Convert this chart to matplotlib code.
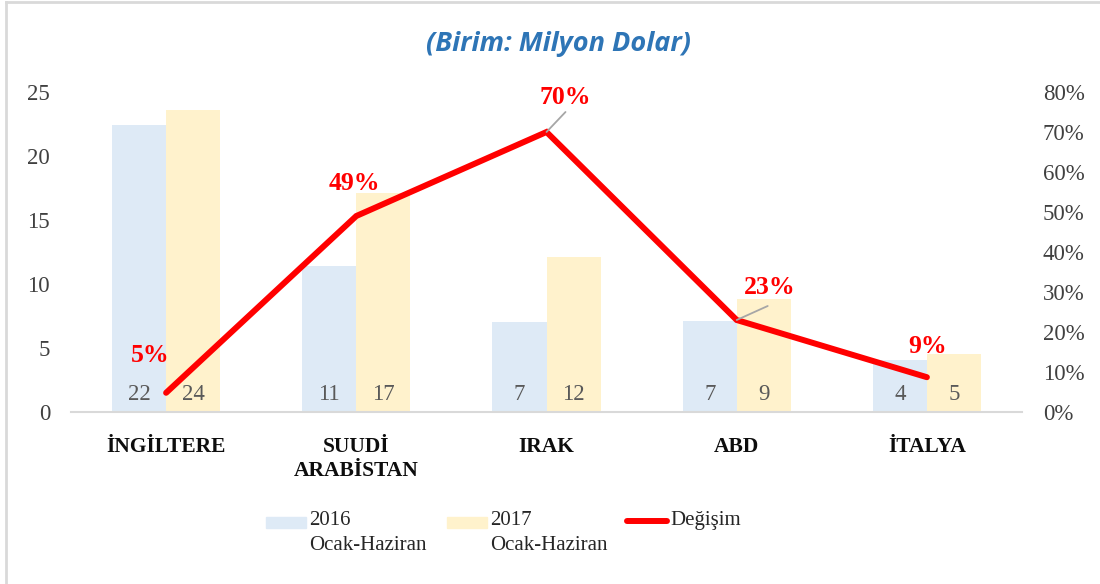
import matplotlib
matplotlib.use("Agg")
import matplotlib.pyplot as plt
from matplotlib.patches import Rectangle
from matplotlib.lines import Line2D
from matplotlib.ticker import PercentFormatter
import numpy as np

# ---- data ----
categories = ["İNGİLTERE", "SUUDİ\nARABİSTAN", "IRAK", "ABD", "İTALYA"]
values_2016 = [22.4, 11.4, 7.0, 7.1, 4.1]
values_2017 = [23.6, 17.1, 12.1, 8.8, 4.55]
change_pct = [0.048, 0.49, 0.70, 0.23, 0.087]
label_2016 = "2016\nOcak-Haziran"
label_2017 = "2017\nOcak-Haziran"
label_change = "Değişim"
title = "(Birim: Milyon Dolar)"

# ---- style ----
C16 = "#DEEAF6"
C17 = "#FFF2CC"
RED = "#FF0000"
GRAY_TXT = "#595959"
AX_TXT = "#404040"
SERIF = ["Liberation Serif"]

fig = plt.figure(figsize=(11, 5.84), dpi=100)
W, H = 1100, 584
ax = fig.add_axes([71 / W, 1 - 412 / H, (1022 - 71) / W, (412 - 92) / H])
ax2 = ax.twinx()

x = np.arange(len(categories))
bw = 0.284
ax.bar(x - bw / 2, values_2016, width=bw, color=C16, zorder=1)
ax.bar(x + bw / 2, values_2017, width=bw, color=C17, zorder=1)

# data labels inside base
for xi, v in zip(x, values_2016):
    ax.annotate(f"{v:.0f}", xy=(xi - bw / 2, 0), xytext=(0, 18), textcoords="offset pixels",
                ha="center", va="center", fontsize=16.5, color=GRAY_TXT, family=SERIF)
for xi, v in zip(x, values_2017):
    ax.annotate(f"{v:.0f}", xy=(xi + bw / 2, 0), xytext=(0, 18), textcoords="offset pixels",
                ha="center", va="center", fontsize=16.5, color=GRAY_TXT, family=SERIF)

ax.set_xlim(-0.5, len(categories) - 0.5)
ax.set_ylim(0, 25)
ax.set_yticks(np.arange(0, 26, 5))
ax2.set_ylim(0, 0.8)
ax2.set_yticks(np.arange(0, 0.81, 0.1))
ax2.yaxis.set_major_formatter(PercentFormatter(1.0, decimals=0))

ax2.plot(x, change_pct, color=RED, lw=4.3, solid_capstyle="round",
         solid_joinstyle="miter", zorder=3)

# percentage labels (offsets in pixels) and leader lines
lab_off = [(-16, 37), (-2, 32), (19, 35), (33, 32), (1, 31)]
leaders = [None, None, (19, 20), (31, 14), None]
for xi, v, off, ld in zip(x, change_pct, lab_off, leaders):
    if ld is not None:
        ax2.annotate("", xy=(xi, v), xytext=ld, textcoords="offset pixels",
                     arrowprops=dict(arrowstyle="-", color="#A6A6A6", lw=1.3,
                                     shrinkA=0, shrinkB=0))
    ax2.annotate(f"{v * 100:.0f}%", xy=(xi, v), xytext=off, textcoords="offset pixels",
                 ha="center", va="center", fontsize=18.5, fontweight="bold",
                 color=RED, family=SERIF, zorder=5)

# axes styling
for a in (ax, ax2):
    for s in ("left", "right", "top"):
        a.spines[s].set_visible(False)
ax.spines["bottom"].set_visible(False)
ax2.spines["bottom"].set_color("#D9D9D9")
ax2.spines["bottom"].set_linewidth(1.5)
ax.tick_params(axis="y", length=0, pad=15, labelsize=16.5, labelcolor=AX_TXT)
ax2.tick_params(axis="y", length=0, pad=15, labelsize=16.5, labelcolor=AX_TXT)
ax.tick_params(axis="x", length=0, pad=18)
ax.set_xticks(x)
ax.set_xticklabels(categories, fontsize=15.5, fontweight="bold", color="#0D0D0D",
                   family=SERIF, linespacing=1.3, va="top")
for lab in ax.get_yticklabels() + ax2.get_yticklabels():
    lab.set_family(SERIF)

# title
fig.text(558 / W, 1 - 44 / H, title, ha="center", va="center", fontsize=19.5,
         fontstyle="italic", fontweight="bold", color="#2E75B6", family=["Open Sans"])

# legend (manual, in figure pixels)
def fx(px):
    return px / W

def fy(py):
    return 1 - py / H

fig.patches.append(Rectangle((fx(266), fy(528)), 40 / W, 11 / H, color=C16,
                             transform=fig.transFigure, figure=fig))
fig.patches.append(Rectangle((fx(447), fy(528)), 40 / W, 11 / H, color=C17,
                             transform=fig.transFigure, figure=fig))
fig.lines.append(Line2D([fx(627), fx(667)], [fy(521), fy(521)], color=RED, lw=4.3,
                        solid_capstyle="round", transform=fig.transFigure, figure=fig))
for px, txt in ((309, label_2016), (490, label_2017), (670, label_change)):
    fig.text(fx(px), fy(511), txt, ha="left", va="top", fontsize=15, color="#262626",
             family=SERIF, linespacing=1.4)

# border (left and top)
fig.lines.append(Line2D([fx(6), fx(6)], [fy(2), 0], color="#D9D9D9", lw=2,
                        transform=fig.transFigure, figure=fig))
fig.lines.append(Line2D([fx(6), 1], [fy(2), fy(2)], color="#D9D9D9", lw=2,
                        transform=fig.transFigure, figure=fig))

fig.savefig("out.png", dpi=100)
